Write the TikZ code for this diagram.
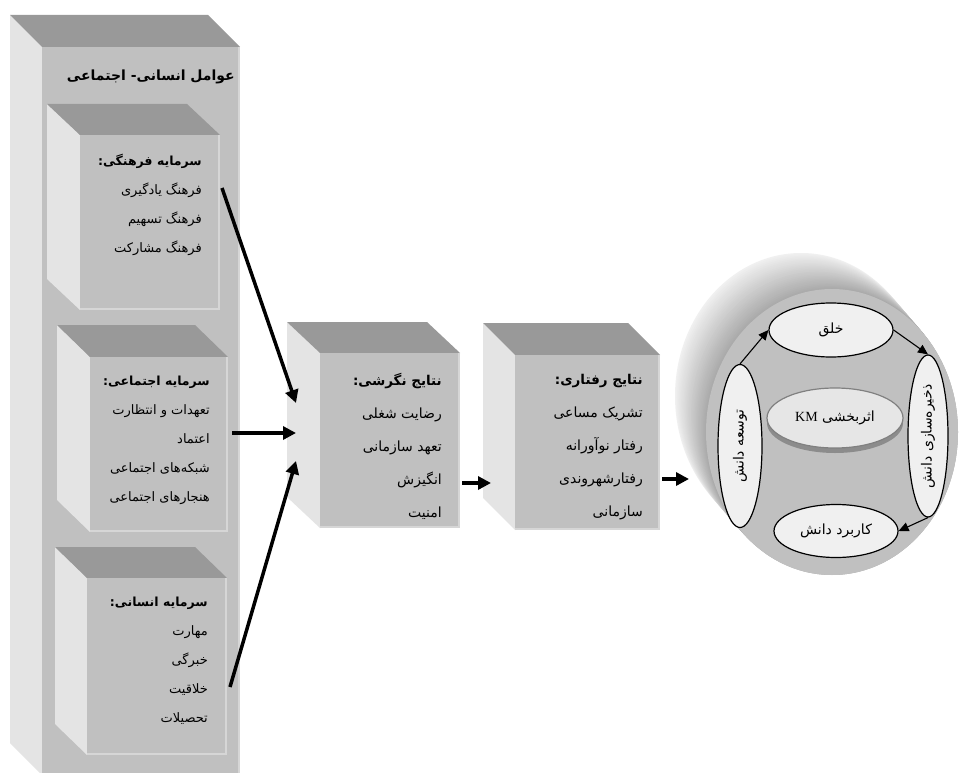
\documentclass[tikz,border=0pt]{standalone}
\usepackage{fontspec}
\usepackage{graphicx}
\setmainfont{Liberation Serif}
\newfontfamily\arabicfont[Script=Arabic]{DejaVu Sans}
\usetikzlibrary{shapes.geometric,arrows.meta}
\TeXXeTstate=1
\newcommand\ar[1]{\beginR#1\endR}
\newcommand\hd[1]{{\bfseries\fontsize{12.5}{29}\selectfont\ar{#1}}}
\newcommand\hdm[1]{{\bfseries\fontsize{13.5}{33}\selectfont\ar{#1}}}
\definecolor{topc}{HTML}{999999}
\definecolor{sidec}{HTML}{E4E4E4}
\definecolor{frontc}{HTML}{C0C0C0}
\definecolor{rimc}{HTML}{D6D6D6}
\definecolor{ellfill}{HTML}{F0F0F0}
\definecolor{kmfill}{HTML}{E6E6E6}
% #1 name, #2 front x-left, #3 front y-top, #4 front x-right, #5 front y-bottom, #6 dx, #7 dy
\newcommand\mycube[7]{%
  \fill[sidec] (#2,#3) -- ({#2-#6},{#3-#7}) -- ({#2-#6},{#5-#7}) -- (#2,#5) -- cycle;
  \fill[topc] (#2,#3) -- ({#2-#6},{#3-#7}) -- ({#4-#6},{#3-#7}) -- (#4,#3) -- cycle;
  \node[frontface, minimum width={#4-#2}, minimum height={#5-#3}, anchor=north west] (#1) at (#2,#3) {};
  \draw[rimc, line width=2pt] ({#4-1},#3) -- ({#4-1},{#5-1}) -- (#2,{#5-1});
}
\begin{document}
\begin{tikzpicture}[x=1pt,y=-1pt,
  frontface/.style={rectangle, fill=frontc, inner sep=0pt, outer sep=0pt},
  txtL/.style={align=right, inner sep=0pt, anchor=north east, font=\arabicfont\fontsize{13}{29}\selectfont},
  txtM/.style={txtL, font=\arabicfont\fontsize{14}{33}\selectfont},
  bigarrow/.style={line width=3.5pt, -{Triangle[length=13pt,width=13pt]}},
  smallarrow/.style={line width=1.1pt, -{Triangle[length=10pt,width=9pt]}},
  inell/.style={ellipse, draw=black, line width=1.2pt, fill=ellfill, inner sep=0pt, font=\arabicfont\fontsize{14}{16}\selectfont}]
\useasboundingbox (0,0) rectangle (961,773);
\begin{scope}
\clip (0,0) rectangle (961,773);
\fill[white] (0,0) rectangle (961,773);
% tall outer box
\mycube{tall}{42}{47}{240}{775}{32}{32}
\node[anchor=north east, inner sep=0pt, font=\arabicfont\bfseries\fontsize{14}{17}\selectfont] (tallt) at (235,70) {\ar{عوامل انسانی- اجتماعی}};
% inner cubes
\mycube{c1}{80}{135}{220}{310}{33}{31}
\mycube{c2}{90}{357}{228}{532}{33}{32}
\mycube{c3}{87}{578}{227}{755}{32}{31}
\mycube{mid}{320}{353}{460}{528}{33}{31}
\mycube{beh}{515}{355}{660}{530}{32}{32}
\node[txtL] (c1t) at (202,154) {\hd{سرمایه فرهنگی:}\\\ar{فرهنگ یادگیری}\\\ar{فرهنگ تسهیم}\\\ar{فرهنگ مشارکت}};
\node[txtL] (c2t) at (210,376) {\hd{سرمایه اجتماعی:}\\\ar{تعهدات و انتظارت}\\\ar{اعتماد}\\\ar{شبکه‌های اجتماعی}\\\ar{هنجارهای اجتماعی}};
\node[txtL] (c3t) at (208,597) {\hd{سرمایه انسانی:}\\\ar{مهارت}\\\ar{خبرگی}\\\ar{خلاقیت}\\\ar{تحصیلات}};
\node[txtM] (midt) at (442,373) {\hdm{نتایج نگرشی:}\\\ar{رضایت شغلی}\\\ar{تعهد سازمانی}\\\ar{انگیزش}\\\ar{امنیت}};
\node[txtM] (beht) at (643,374) {\hdm{نتایج رفتاری:}\\\ar{تشریک مساعی}\\\ar{رفتار نوآورانه}\\\ar{رفتارشهروندی}\\\ar{سازمانی}};
% big arrows
\coordinate (a1s) at (222,188); \coordinate (a1e) at (296,403);
\coordinate (a2s) at (232,433); \coordinate (a2e) at (296,433);
\coordinate (a3s) at (230,687); \coordinate (a3e) at (296,461);
\coordinate (a4s) at (462,483); \coordinate (a4e) at (491,483);
\coordinate (a5s) at (662,479); \coordinate (a5e) at (689,479);
\draw[bigarrow] (a1s) -- (a1e);
\draw[bigarrow] (a2s) -- (a2e);
\draw[bigarrow] (a3s) -- (a3e);
\draw[bigarrow] (a4s) -- (a4e);
\draw[bigarrow] (a5s) -- (a5e);
% disk
\foreach \t in {0,0.04,...,1.0} {
  \pgfmathsetmacro\c{6+28*\t}
  \fill[black!\c] ({801+31*\t},{396+36*\t}) ellipse [x radius=126pt, y radius=143pt];
}
\node[ellipse, fill=frontc, minimum width=252pt, minimum height=286pt, inner sep=0pt] (disk) at (832,432) {};
\fill[black!45] (835,423) ellipse [x radius=68pt, y radius=30pt];
\node[ellipse, draw=black!50, line width=1.2pt, fill=kmfill, minimum width=136pt, minimum height=60pt, inner sep=0pt, font=\arabicfont\fontsize{14}{16}\selectfont] (km) at (835,418) {\ar{اثربخشی \beginL{\rmfamily KM}\endL}};
\node[inell, minimum width=124pt, minimum height=54pt] (khalq) at (831,330) {\ar{خلق}};
\node[inell, minimum width=40pt, minimum height=162pt] (store) at (928,436) {\rotatebox{90}{\ar{ذخیره‌سازی دانش}}};
\node[inell, minimum width=44pt, minimum height=163pt] (dev) at (740,446) {\rotatebox{90}{\ar{توسعه دانش}}};
\node[inell, minimum width=124pt, minimum height=53pt] (kar) at (836,531) {\ar{کاربرد دانش}};
\draw[smallarrow] (dev.north) -- (khalq.west);
\draw[smallarrow] (khalq.east) -- (store.north);
\draw[smallarrow] (store.south) -- (kar.east);
\end{scope}
\end{tikzpicture}
\end{document}
